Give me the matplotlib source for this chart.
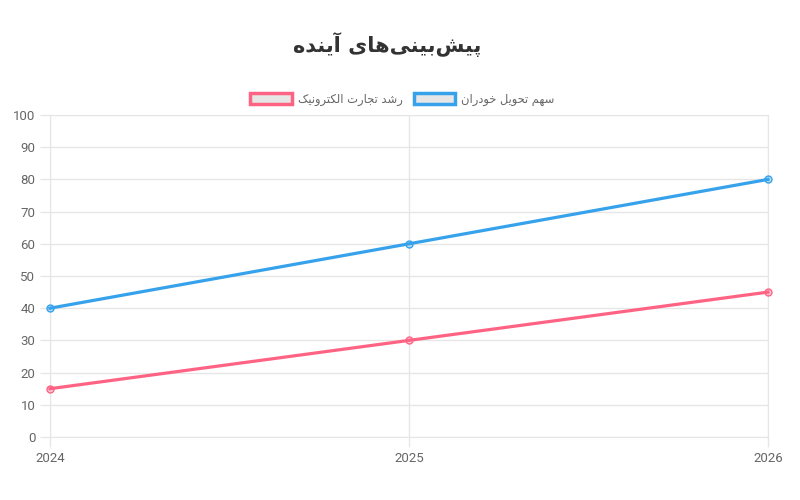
import matplotlib
matplotlib.use('Agg')
import matplotlib.pyplot as plt
from matplotlib.patches import Rectangle

# Data
years = ['2024', '2025', '2026']
autonomous_delivery = [40, 60, 80]   # سهم تحویل خودران
ecommerce_growth = [15, 30, 45]      # رشد تجارت الکترونیک
y_ticks = list(range(0, 101, 10))

title_text = 'پیش\u200cبینی\u200cهای آینده'
label_blue = 'سهم تحویل خودران'
label_pink = 'رشد تجارت الکترونیک'

# Simple Persian shaping (matplotlib has no complex text layout)
# letter: (isolated, final, initial, medial) -- initial/medial None for right-joining
FORMS = {
    '\u0627': ('\uFE8D', '\uFE8E', None, None),
    '\u0622': ('\uFE81', '\uFE82', None, None),
    '\u0628': ('\uFE8F', '\uFE90', '\uFE91', '\uFE92'),
    '\u067E': ('\uFB56', '\uFB57', '\uFB58', '\uFB59'),
    '\u062A': ('\uFE95', '\uFE96', '\uFE97', '\uFE98'),
    '\u062C': ('\uFE9D', '\uFE9E', '\uFE9F', '\uFEA0'),
    '\u062D': ('\uFEA1', '\uFEA2', '\uFEA3', '\uFEA4'),
    '\u062E': ('\uFEA5', '\uFEA6', '\uFEA7', '\uFEA8'),
    '\u062F': ('\uFEA9', '\uFEAA', None, None),
    '\u0631': ('\uFEAD', '\uFEAE', None, None),
    '\u0633': ('\uFEB1', '\uFEB2', '\uFEB3', '\uFEB4'),
    '\u0634': ('\uFEB5', '\uFEB6', '\uFEB7', '\uFEB8'),
    '\u0644': ('\uFEDD', '\uFEDE', '\uFEDF', '\uFEE0'),
    '\u0645': ('\uFEE1', '\uFEE2', '\uFEE3', '\uFEE4'),
    '\u0646': ('\uFEE5', '\uFEE6', '\uFEE7', '\uFEE8'),
    '\u0647': ('\uFEE9', '\uFEEA', '\uFEEB', '\uFEEC'),
    '\u0648': ('\uFEED', '\uFEEE', None, None),
    '\u06A9': ('\uFB8E', '\uFB8F', '\uFB90', '\uFB91'),
    '\u06CC': ('\uFBFC', '\uFBFD', '\uFBFE', '\uFBFF'),
}


def shape(text):
    out = []
    n = len(text)
    for i, c in enumerate(text):
        if c not in FORMS:
            if c != '\u200c':
                out.append(c)
            continue
        f = FORMS[c]
        prev = text[i - 1] if i > 0 else ''
        nxt = text[i + 1] if i < n - 1 else ''
        join_prev = prev in FORMS and FORMS[prev][2] is not None
        join_next = f[2] is not None and nxt in FORMS
        if join_prev and join_next:
            out.append(f[3])
        elif join_prev:
            out.append(f[1])
        elif join_next:
            out.append(f[2])
        else:
            out.append(f[0])
    return ''.join(out)[::-1]


plt.rcParams['font.family'] = ['DejaVu Sans']

blue = '#36a2eb'
pink = '#ff6384'
grid_c = '#e6e6e6'
text_c = '#666666'

fig = plt.figure(figsize=(8, 5), dpi=100)
ax = fig.add_axes([0.0625, 0.126, 0.8975, 0.644])

x = list(range(len(years)))
ax.plot(x, autonomous_delivery, color=blue, lw=2.3, marker='o', ms=5,
        mfc=(0.21, 0.64, 0.92, 0.3), mec=blue, mew=1, clip_on=False, zorder=3)
ax.plot(x, ecommerce_growth, color=pink, lw=2.3, marker='o', ms=5,
        mfc=(1.0, 0.39, 0.52, 0.3), mec=pink, mew=1, clip_on=False, zorder=3)

ax.set_xlim(0, len(years) - 1)
ax.set_ylim(0, 100)
ax.set_xticks(x)
ax.set_xticklabels(years)
ax.set_yticks(y_ticks)
ax.grid(True, color=grid_c, lw=1)
ax.set_axisbelow(True)
for s in ax.spines.values():
    s.set_color(grid_c)
ax.tick_params(colors=grid_c, labelcolor=text_c, labelsize=9.5, length=7, width=1)
for lbl in ax.get_xticklabels() + ax.get_yticklabels():
    lbl.set_family(['Roboto', 'DejaVu Sans'])

fig.text(0.484, 0.91, shape(title_text), ha='center', va='center',
         fontsize=15, fontweight='bold', color='#333333')

h_pink = Rectangle((0, 0), 1, 1, facecolor='#e6e6e6', edgecolor=pink, lw=2.5)
h_blue = Rectangle((0, 0), 1, 1, facecolor='#e6e6e6', edgecolor=blue, lw=2.5)
fig.legend([h_pink, h_blue], [shape(label_pink), shape(label_blue)],
           loc='center', bbox_to_anchor=(0.503, 0.802), ncol=2, frameon=False,
           fontsize=8.3, labelcolor=text_c, handlelength=3.6, handleheight=1.0,
           handletextpad=0.5, columnspacing=1.0)

fig.savefig('out.png', dpi=100)
